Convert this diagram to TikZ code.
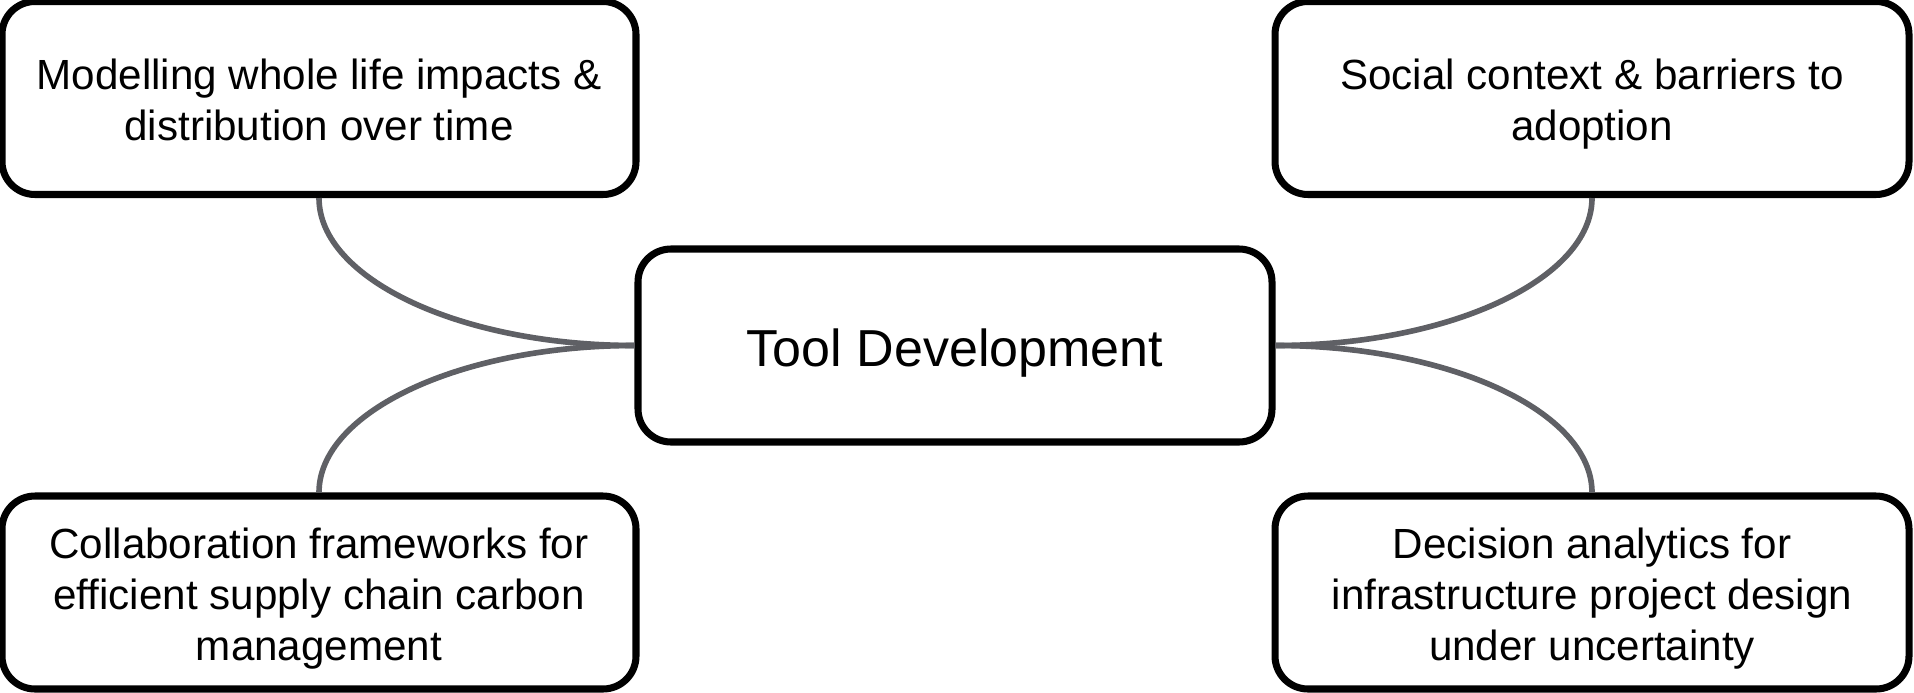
\documentclass[tikz,border=0pt]{standalone}
\usepackage{fontspec}
\setmainfont{Liberation Sans}
\usetikzlibrary{calc}

\definecolor{linkgray}{HTML}{5F6065}

\tikzset{
  topic/.style={draw, line width=2pt, rounded corners=0.33cm, fill=white,
    minimum width=6.34cm, minimum height=1.93cm, align=center,
    font=\fontsize{12}{14.5}\selectfont, text depth=2.5pt},
  twolines/.style={topic, text height=26.5pt},
  threelines/.style={topic, text height=41pt},
  link/.style={draw=linkgray, line width=1.6pt}
}

\begin{document}
\begin{tikzpicture}

\useasboundingbox (0,0) rectangle (19.14,6.92);

\node[twolines] (model) at (3.19,5.94) {Modelling whole life impacts \&\\distribution over time};
\node[twolines] (social) at (15.92,5.94) {Social context \& barriers to\\adoption};
\node[threelines] (collab) at (3.19,0.995) {Collaboration frameworks for\\efficient supply chain carbon\\management};
\node[threelines] (decide) at (15.92,0.995) {Decision analytics for\\infrastructure project design\\under uncertainty};

\node[topic, font=\fontsize{14.8}{18}\selectfont, text height=14.8pt, text depth=3.1pt] (tool) at (9.55,3.465) {Tool Development};

\draw[link] (model.south) .. controls ($(model.south)!0.55!(model.south|-tool.west)$) and ($(tool.west)!0.55!(model.south|-tool.west)$) .. (tool.west);
\draw[link] (collab.north) .. controls ($(collab.north)!0.55!(collab.north|-tool.west)$) and ($(tool.west)!0.55!(collab.north|-tool.west)$) .. (tool.west);
\draw[link] (social.south) .. controls ($(social.south)!0.55!(social.south|-tool.east)$) and ($(tool.east)!0.55!(social.south|-tool.east)$) .. (tool.east);
\draw[link] (decide.north) .. controls ($(decide.north)!0.55!(decide.north|-tool.east)$) and ($(tool.east)!0.55!(decide.north|-tool.east)$) .. (tool.east);

\end{tikzpicture}
\end{document}
